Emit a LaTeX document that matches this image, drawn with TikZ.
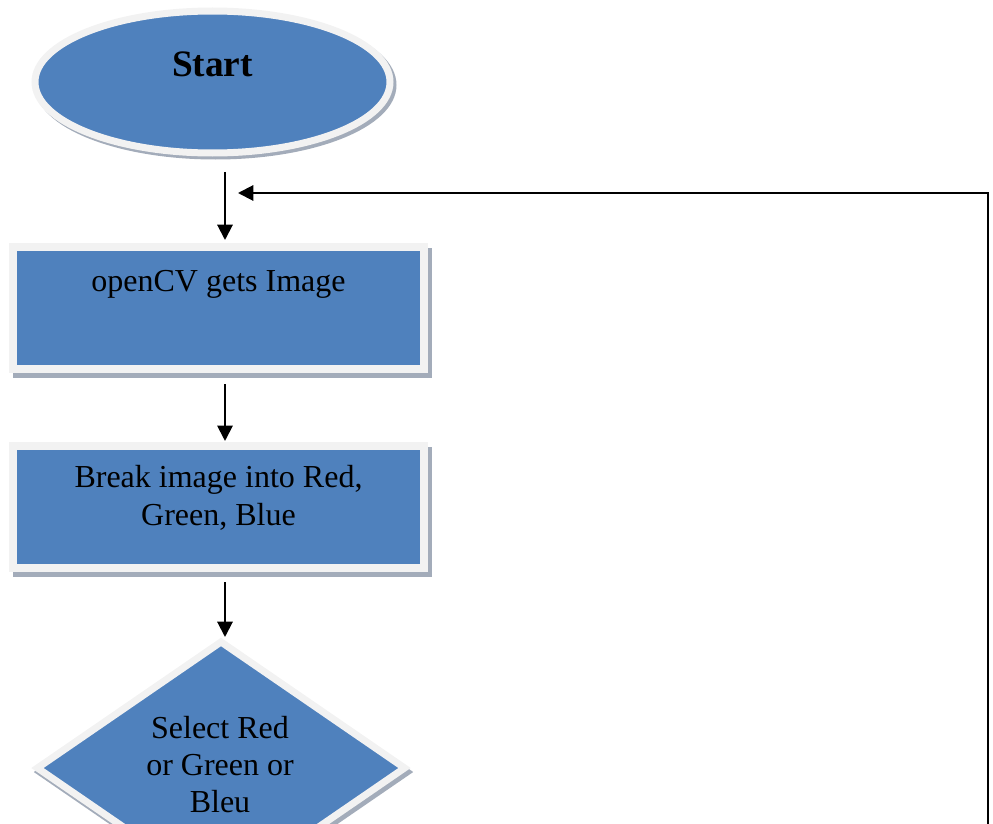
\documentclass[tikz,border=0pt]{standalone}
\usepackage{fontspec}
\setmainfont{Liberation Serif}
\usetikzlibrary{arrows.meta,shapes.geometric}
\definecolor{fillblue}{HTML}{4F81BD}
\definecolor{rimgrey}{HTML}{F2F2F2}
\definecolor{shadegrey}{HTML}{A3ACBA}

\begin{document}
\begin{tikzpicture}[x=0.75pt,y=-0.75pt,
  castshadow/.style={preaction={draw=shadegrey, fill=shadegrey,
      transform canvas={shift={(#1)}}}},
  blob/.style={fill=fillblue, draw=rimgrey, inner sep=0pt},
  startshape/.style={blob, ellipse, line width=5.25pt,
      minimum width=266.25pt, minimum height=106.5pt, castshadow={3,3}},
  boxshape/.style={blob, rectangle, line width=6pt,
      minimum width=308.25pt, minimum height=91.5pt, castshadow={3.5,5}},
  choiceshape/.style={blob, diamond, line width=5.25pt,
      minimum width=277.5pt, minimum height=191.25pt, castshadow={2.5,4}},
  lbl/.style={font=\fontsize{24}{28.5}\selectfont, align=center,
      anchor=base, inner sep=0pt},
  arr/.style={line width=1.5pt, draw=black,
      -{Triangle[length=11.5pt,width=11.5pt]}}
]
\useasboundingbox (0,0) rectangle (993,824);

% shapes
\node[startshape]  (start)  at (212.5,82)  {};
\node[boxshape]    (box1)   at (218.5,308) {};
\node[boxshape]    (box2)   at (218.5,506.5) {};
\node[choiceshape] (choice) at (221,768) {};

% texts (base anchor sits on the last line's baseline)
\node[lbl, font=\fontsize{28}{33}\selectfont\bfseries] (starttxt) at (212.5,77) {Start};
\node[lbl] (box1txt) at (218.5,291) {openCV gets Image};
\node[lbl] (box2txt) at (218.5,525) {Break image into Red,\\Green, Blue};
\node[lbl, font=\fontsize{24}{27.5}\selectfont] (choicetxt) at (220,812) {Select Red\\or Green or\\Bleu};

% connectors
\coordinate (ax) at (225,0);
\coordinate (loopfoot) at (988,830);
\coordinate (loophead) at (238,193);

\draw[arr, shorten <=11.6pt, shorten >=2.25pt] (start.south -| ax) -- (box1.north -| ax);
\draw[arr, shorten <=8.25pt, shorten >=0.4pt] (box1.south -| ax) -- (box2.north -| ax);
\draw[arr, shorten <=7.9pt] (box2.south -| ax) -- (choice.north -| ax);
\draw[arr] (loopfoot) |- (loophead);
\end{tikzpicture}
\end{document}
